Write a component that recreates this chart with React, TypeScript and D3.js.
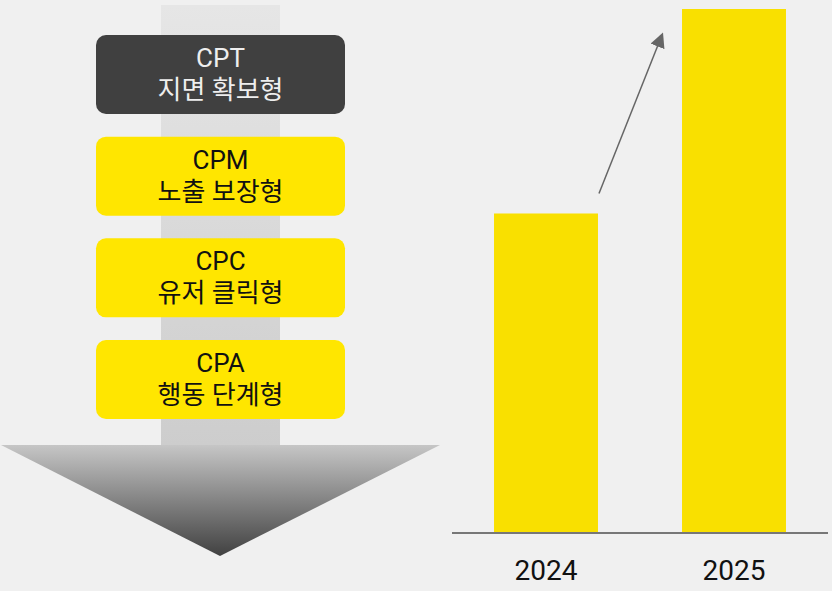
import React from "react";
import * as d3 from "d3";

const W = 832;
const H = 591;

// funnel stages (top to bottom)
const stageCodes = ["CPT", "CPM", "CPC", "CPA"];
const stageNames = ["지면 확보형", "노출 보장형", "유저 클릭형", "행동 단계형"];
const stageDark = [true, false, false, false];

// bar chart
const years = ["2024", "2025"];
const values = [100, 164];

const FONT = "Roboto, 'Noto Sans CJK KR', sans-serif";

export default function App() {
  const x = d3
    .scaleBand<string>()
    .domain(years)
    .range([452, 828])
    .paddingInner(0.447)
    .paddingOuter(0.2235);
  const y = d3.scaleLinear().domain([0, d3.max(values)!]).range([533, 9]);

  const stageY = d3
    .scalePoint<string>()
    .domain(stageCodes)
    .range([35, 340]);

  const boxX = 96;
  const boxW = 249;
  const boxH = 79;

  // growth arrow from above 2024 toward the 2025 top
  const x0 = x("2024")! + x.bandwidth() + 1;
  const y0 = y(values[0]) - 20;
  const x1 = x("2025")! - 24;
  const y1 = y(values[1]) + 36;

  return (
    <svg
      width={W}
      height={H}
      style={{ position: "absolute", left: 0, top: 0, background: "#f0f0f0" }}
    >
      <defs>
        <linearGradient id="shaft" x1="0" y1="0" x2="0" y2="1">
          <stop offset="0" stopColor="#e6e6e6" />
          <stop offset="1" stopColor="#cdcdcd" />
        </linearGradient>
        <linearGradient id="head" x1="0" y1="0" x2="0" y2="1">
          <stop offset="0" stopColor="#c6c6c6" />
          <stop offset="1" stopColor="#414141" />
        </linearGradient>
        <marker
          id="tip"
          viewBox="0 0 10 10"
          refX="1"
          refY="5"
          markerWidth="10"
          markerHeight="10"
          orient="auto"
        >
          <path d="M0,0 L10,5 L0,10 z" fill="#666" />
        </marker>
      </defs>

      {/* big down arrow */}
      <rect x={161} y={5} width={119} height={441} fill="url(#shaft)" />
      <path d="M1,445 L440,445 L220,556 Z" fill="url(#head)" />

      {stageCodes.map((c, i) => {
        const top = stageY(c)!;
        const dark = stageDark[i];
        const col = dark ? "#eeeeee" : "#111111";
        return (
          <g key={c}>
            <rect
              x={boxX}
              y={top}
              width={boxW}
              height={boxH}
              rx={10}
              fill={dark ? "#404040" : "#ffe600"}
            />
            <text
              x={boxX + boxW / 2}
              y={top + 32}
              textAnchor="middle"
              fontFamily={FONT}
              fontSize={26}
              fill={col}
            >
              {c}
            </text>
            <text
              x={boxX + boxW / 2}
              y={top + 64}
              textAnchor="middle"
              fontFamily={FONT}
              fontSize={26}
              fill={col}
            >
              {stageNames[i]}
            </text>
          </g>
        );
      })}

      {/* bars */}
      {years.map((yr, i) => (
        <rect
          key={yr}
          x={x(yr)}
          y={y(values[i])}
          width={x.bandwidth()}
          height={y(0) - y(values[i])}
          fill="#f9e000"
        />
      ))}
      <line x1={452} x2={828} y1={y(0)} y2={y(0)} stroke="#777" strokeWidth={2} />
      {years.map((yr) => (
        <text
          key={yr}
          x={x(yr)! + x.bandwidth() / 2}
          y={580}
          textAnchor="middle"
          fontFamily={FONT}
          fontSize={28}
          fill="#111"
        >
          {yr}
        </text>
      ))}

      <line
        x1={x0}
        y1={y0}
        x2={x1}
        y2={y1}
        stroke="#666"
        strokeWidth={1.5}
        markerEnd="url(#tip)"
      />
    </svg>
  );
}
